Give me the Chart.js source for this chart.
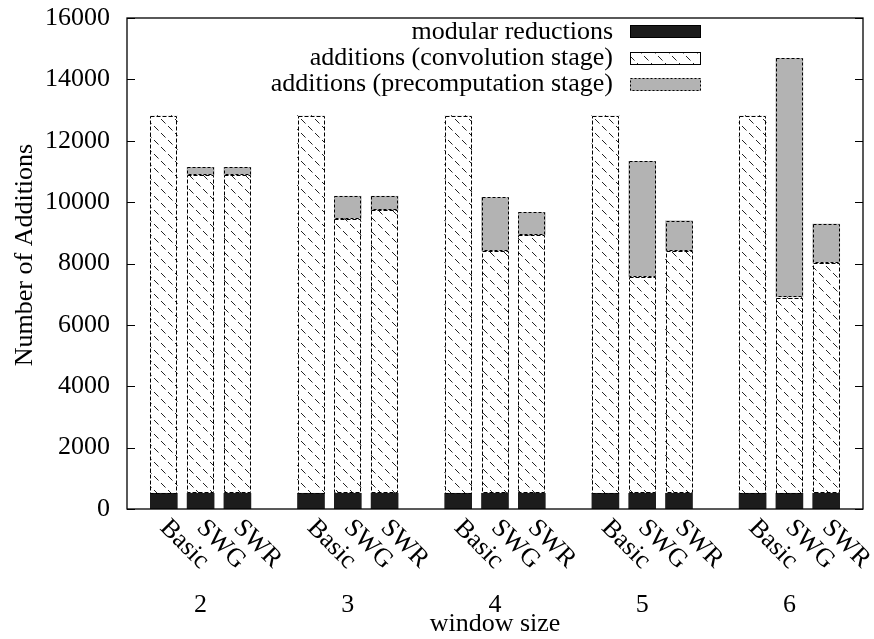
<!DOCTYPE html>
<html>
<head>
<meta charset="utf-8">
<script src="https://cdn.jsdelivr.net/npm/chart.js@4.4.1/dist/chart.umd.min.js"></script>
<style>
  html, body { margin: 0; padding: 0; background: #fff; }
</style>
</head>
<body>
<canvas id="chart" width="874" height="639"></canvas>
<script>
// window sizes (groups) and the three methods inside each group
const windowSizes = ['2', '3', '4', '5', '6'];
const methods = ['Basic', 'SWG', 'SWR'];
const seriesNames = ['modular reductions', 'additions (convolution stage)', 'additions (precomputation stage)'];

// values per bar, group by group: Basic, SWG, SWR
const modularReductions = [512, 512, 512, 512, 512, 512, 512, 512, 512, 512, 512, 512, 512, 512, 512];
const convolutionAdds = [
  12310, 10370, 10370,
  12310, 8940, 9220,
  12310, 7890, 8410,
  12310, 7050, 7890,
  12310, 6380, 7510
];
const precomputationAdds = [
  0, 250, 250,
  0, 740, 460,
  0, 1750, 740,
  0, 3770, 990,
  0, 7790, 1260
];
const yTicks = [0, 2000, 4000, 6000, 8000, 10000, 12000, 14000, 16000];

const FONT = '26px "Liberation Serif"';
const GRAY = '#b3b3b3';
const INK = '#1c1c1c';

// each group takes 3 slots + 1 empty slot (gnuplot histogram gap)
const slotOf = i => Math.floor(i / methods.length) * (methods.length + 1) + (i % methods.length);
const points = arr => arr.map((v, i) => ({ x: slotOf(i), y: v }));

// diagonal dashed hatch for the convolution stage
function hatchPattern() {
  const s = 14;
  const c = document.createElement('canvas');
  c.width = s; c.height = s;
  const g = c.getContext('2d');
  g.fillStyle = '#fff';
  g.fillRect(0, 0, s, s);
  g.strokeStyle = '#222';
  g.lineWidth = 1;
  g.setLineDash([6.4, 3.5]);
  [-s, 0, s].forEach(dx => {
    g.beginPath();
    g.moveTo(dx, 0);
    g.lineTo(dx + s, s);
    g.stroke();
  });
  return g.createPattern(c, 'repeat');
}
const HATCH = hatchPattern();

const paper = {
  id: 'paper',
  // dashed bar outlines like the gnuplot output
  afterDatasetsDraw(chart) {
    const ctx = chart.ctx;
    ctx.save();
    ctx.strokeStyle = '#000';
    ctx.lineWidth = 1;
    [[1, [4, 2]], [2, [3, 2]]].forEach(([di, dash]) => {
      const meta = chart.getDatasetMeta(di);
      ctx.setLineDash(dash);
      meta.data.forEach((bar, i) => {
        if (!chart.data.datasets[di].data[i].y) return;
        const { x, y, base, width } = bar.getProps(['x', 'y', 'base', 'width'], true);
        ctx.strokeRect(Math.round(x - width / 2) + 0.5, Math.round(y) + 0.5, Math.round(width) - 1, Math.round(base - y) - 1);
      });
    });
    ctx.restore();
  },
  afterDraw(chart) {
    const ctx = chart.ctx;
    const a = chart.chartArea;
    const xs = chart.scales.x, ys = chart.scales.y;
    ctx.save();
    ctx.fillStyle = '#000';
    ctx.strokeStyle = '#000';

    // frame + inward ticks on both sides
    ctx.lineWidth = 1.3;
    ctx.strokeRect(a.left, a.top, a.right - a.left, a.bottom - a.top);
    ctx.lineWidth = 1;
    yTicks.forEach(v => {
      const py = Math.round(ys.getPixelForValue(v)) + 0.5;
      ctx.beginPath();
      ctx.moveTo(a.left, py); ctx.lineTo(a.left + 8, py);
      ctx.moveTo(a.right, py); ctx.lineTo(a.right - 8, py);
      ctx.stroke();
    });

    ctx.font = FONT;
    // rotated method labels under each bar
    convolutionAdds.forEach((_, i) => {
      const px = xs.getPixelForValue(slotOf(i));
      ctx.save();
      ctx.translate(px, 524);
      ctx.rotate(Math.PI / 4);
      ctx.textAlign = 'left';
      ctx.textBaseline = 'middle';
      ctx.fillText(methods[i % methods.length], 0, 0);
      ctx.restore();
    });

    // window size under each group
    ctx.textAlign = 'center';
    ctx.textBaseline = 'middle';
    windowSizes.forEach((w, g) => {
      ctx.fillText(w, xs.getPixelForValue(g * (methods.length + 1) + 1), 605);
    });
    ctx.textBaseline = 'alphabetic';
    ctx.fillText('window size', (a.left + a.right) / 2, 631);

    // y axis title
    ctx.save();
    ctx.translate(32, 255);
    ctx.rotate(-Math.PI / 2);
    ctx.fillText('Number of Additions', 0, 0);
    ctx.restore();

    // key, top right inside the plot
    const rows = [31.7, 58, 84];
    const fills = [INK, HATCH, GRAY];
    const dashes = [[], [], [2, 2]];
    ctx.textAlign = 'right';
    ctx.textBaseline = 'middle';
    rows.forEach((ry, k) => {
      ctx.fillStyle = '#000';
      ctx.fillText(seriesNames[k], 613, ry);
      ctx.fillStyle = fills[k];
      ctx.fillRect(630, Math.round(ry - 6.5), 71, 13);
      ctx.setLineDash(dashes[k]);
      ctx.strokeStyle = '#000';
      ctx.strokeRect(630.5, Math.round(ry - 6.5) + 0.5, 70, 12);
    });
    ctx.restore();
  }
};

Chart.defaults.font.family = '"Liberation Serif"';
Chart.defaults.color = '#000';

new Chart(document.getElementById('chart'), {
  type: 'bar',
  data: {
    datasets: [
      { label: seriesNames[0], data: points(modularReductions), backgroundColor: INK, borderWidth: 0 },
      { label: seriesNames[1], data: points(convolutionAdds), backgroundColor: HATCH, borderWidth: 0 },
      { label: seriesNames[2], data: points(precomputationAdds), backgroundColor: GRAY, borderWidth: 0 }
    ]
  },
  options: {
    responsive: false,
    animation: false,
    devicePixelRatio: 1,
    barThickness: 27,
    layout: { padding: { left: 0, right: 11, top: 18, bottom: 130 } },
    plugins: { legend: { display: false }, tooltip: { enabled: false } },
    scales: {
      x: { type: 'linear', min: -1, max: 19, offset: false, stacked: true, display: false },
      y: {
        stacked: true, min: 0, max: 16000,
        // fixed axis width; label overhang must not push the plot area down
        afterFit: s => { s.width = 127; s.paddingTop = 0; s.paddingBottom = 0; },
        afterBuildTicks: s => { s.ticks = yTicks.map(v => ({ value: v })); },
        grid: { display: false, drawTicks: false },
        border: { display: false },
        ticks: { padding: 17, font: { size: 26 }, color: '#000', callback: v => String(v) }
      }
    }
  },
  plugins: [paper]
});
</script>
</body>
</html>
